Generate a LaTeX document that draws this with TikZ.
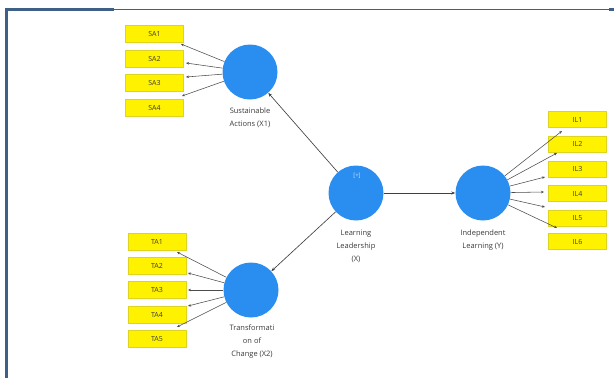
\documentclass[tikz,border=0pt]{standalone}
\usepackage{fontspec}
\setmainfont{Open Sans}
\usepackage{tikz}
\usetikzlibrary{arrows.meta}

\definecolor{plsblue}{HTML}{2A8DF0}
\definecolor{framec}{HTML}{3E5F86}
\definecolor{labelc}{HTML}{3A3A3A}

\begin{document}
\begin{tikzpicture}
	[x=1pt,y=-1pt,
	construct/.style={circle,fill=plsblue,minimum size=55pt,inner sep=0pt},
	indicator/.style={rectangle,fill=yellow,draw=yellow!85!black,line width=0.3pt,minimum width=58pt,minimum height=17pt,inner sep=0pt,font=\fontsize{7}{8}\selectfont,text=labelc},
	caption/.style={align=center,font=\fontsize{7.5}{13}\selectfont,text=labelc},
	loading/.style={-{Stealth[length=3pt,width=2.6pt]},gray!60!black,line width=0.55pt},
	inner/.style={-{Stealth[length=4pt,width=3pt]},gray!50!black,line width=0.65pt},
	frame/.style={framec}]
	\useasboundingbox (0,0) rectangle (614,378);
	% frame
	\fill[frame] (5,8) rectangle (8,378);
	\fill[frame] (5,8) rectangle (114,11);
	\draw[frame,line width=1pt] (114,9) -- (612,9);
	\fill[frame] (609,8) rectangle (614,11);

	% constructs
	\node[construct] (X1) at (250,72) {};
	\node[construct] (X2) at (251,290) {};
	\node[construct] (X) at (356,193) {};
	\node[construct] (Y) at (483,193) {};
	\node[text=white!75!plsblue,font=\fontsize{6}{6}\selectfont] (plus) at (357,176) {[+]};

	\node[caption] (capX1) at (250,117.5) {Sustainable\\Actions (X1)};
	\node[caption] (capX2) at (252,342) {Transformati\\on of\\Change (X2)};
	\node[caption] (capX) at (356,246) {Learning\\Leadership\\(X)};
	\node[caption] (capY) at (483,240) {Independent\\Learning (Y)};

	% indicators
	\node[indicator] (SA1) at (154.5,34) {SA1};
	\node[indicator] (SA2) at (154.5,58.5) {SA2};
	\node[indicator] (SA3) at (154.5,83) {SA3};
	\node[indicator] (SA4) at (154.5,107.5) {SA4};

	\node[indicator] (TA1) at (157,242) {TA1};
	\node[indicator] (TA2) at (157,265.5) {TA2};
	\node[indicator] (TA3) at (157,290) {TA3};
	\node[indicator] (TA4) at (157,314.5) {TA4};
	\node[indicator] (TA5) at (157,339) {TA5};

	\node[indicator,minimum height=16pt] (IL1) at (577.5,119.5) {IL1};
	\node[indicator,minimum height=16pt] (IL2) at (577.5,144) {IL2};
	\node[indicator,minimum height=16pt] (IL3) at (577.5,169) {IL3};
	\node[indicator,minimum height=16pt] (IL4) at (577.5,193.5) {IL4};
	\node[indicator,minimum height=16pt] (IL5) at (577.5,218) {IL5};
	\node[indicator,minimum height=16pt] (IL6) at (577.5,241.5) {IL6};

	% arrow tips of the loadings
	\coordinate (tSA1) at (181,44);
	\coordinate (tSA2) at (186,63);
	\coordinate (tSA3) at (186,77);
	\coordinate (tSA4) at (182,96);
	\coordinate (tTA1) at (177,252);
	\coordinate (tTA2) at (188,273);
	\coordinate (tTA3) at (188,290);
	\coordinate (tTA4) at (188,306);
	\coordinate (tTA5) at (177,327);
	\coordinate (tIL1) at (562,131);
	\coordinate (tIL2) at (557,153);
	\coordinate (tIL3) at (545,177);
	\coordinate (tIL4) at (544,192);
	\coordinate (tIL5) at (545,207);
	\coordinate (tIL6) at (557,228);

	\foreach \i in {1,...,4} \draw[loading] (X1) -- (tSA\i);
	\foreach \i in {1,...,5} \draw[loading] (X2) -- (tTA\i);
	\foreach \i in {1,...,6} \draw[loading] (Y) -- (tIL\i);

	% structural paths
	\draw[inner] (X) -- (X1);
	\draw[inner] (X) -- (X2);
	\draw[inner] (X) -- (Y);
\end{tikzpicture}
\end{document}
